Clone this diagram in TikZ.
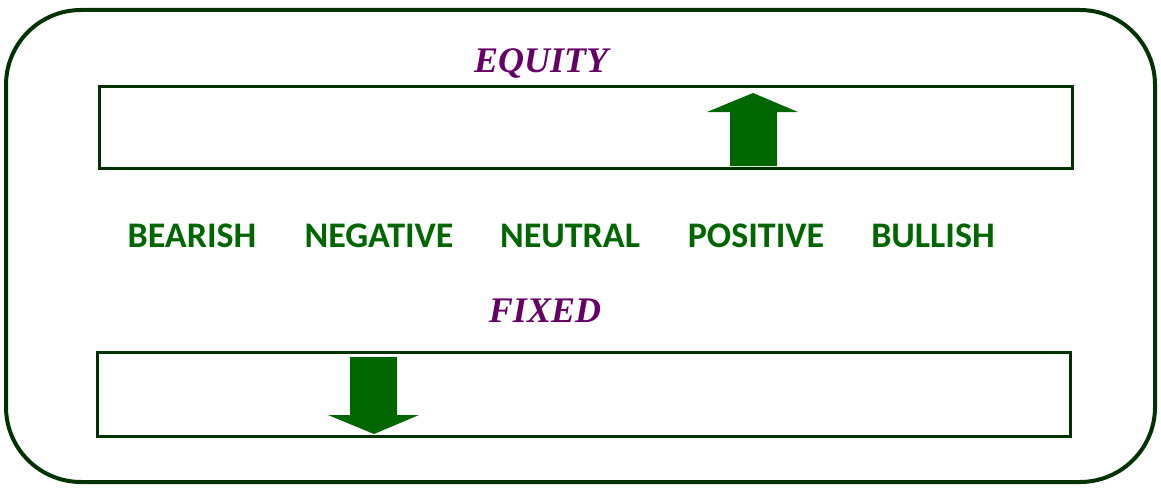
\documentclass[tikz,border=0pt]{standalone}
\usepackage{fontspec}
\setmainfont{Liberation Serif}
\newfontfamily\labelfont{Carlito}
\usepackage{tikz}

\definecolor{framegreen}{HTML}{003300}
\definecolor{arrowgreen}{HTML}{006600}
\definecolor{titlepurple}{HTML}{660066}

\tikzset{
	frame/.style={draw=framegreen, line width=3pt},
	mood/.style={anchor=base, text=arrowgreen, font=\labelfont\bfseries\fontsize{36}{40}\selectfont, inner sep=0pt},
	market/.style={anchor=base, text=titlepurple, font=\bfseries\itshape\fontsize{36}{40}\selectfont, inner sep=0pt}
}

\begin{document}
\begin{tikzpicture}[x=1pt, y=-1pt]
		\useasboundingbox (0, 0) rectangle (1161, 487);
		\draw[framegreen, line width=4pt, rounded corners=75pt] (6, 10) rectangle (1155, 482);
		
		\node[market] (equity) at (541, 73) {EQUITY};
		\draw[frame] (99, 86) rectangle (1072, 168);
		\fill[arrowgreen] (730, 166) -- (730, 112) -- (707, 112) -- (753, 93) -- (798, 112) -- (777, 112) -- (777, 166) -- cycle;
		
		\node[mood] (bearish) at (192, 247) {BEARISH};
		\node[mood] (negative) at (379, 247) {NEGATIVE};
		\node[mood] (neutral) at (570, 247) {NEUTRAL};
		\node[mood] (positive) at (756, 247) {POSITIVE};
		\node[mood] (bullish) at (933, 247) {BULLISH};
		
		\node[market] (fixed) at (545, 322) {FIXED};
		\draw[frame] (97, 352) rectangle (1070, 436);
		\fill[arrowgreen] (350, 357) -- (350, 415) -- (328, 415) -- (374, 434) -- (419, 415) -- (397, 415) -- (397, 357) -- cycle;
	\end{tikzpicture}
\end{document}
